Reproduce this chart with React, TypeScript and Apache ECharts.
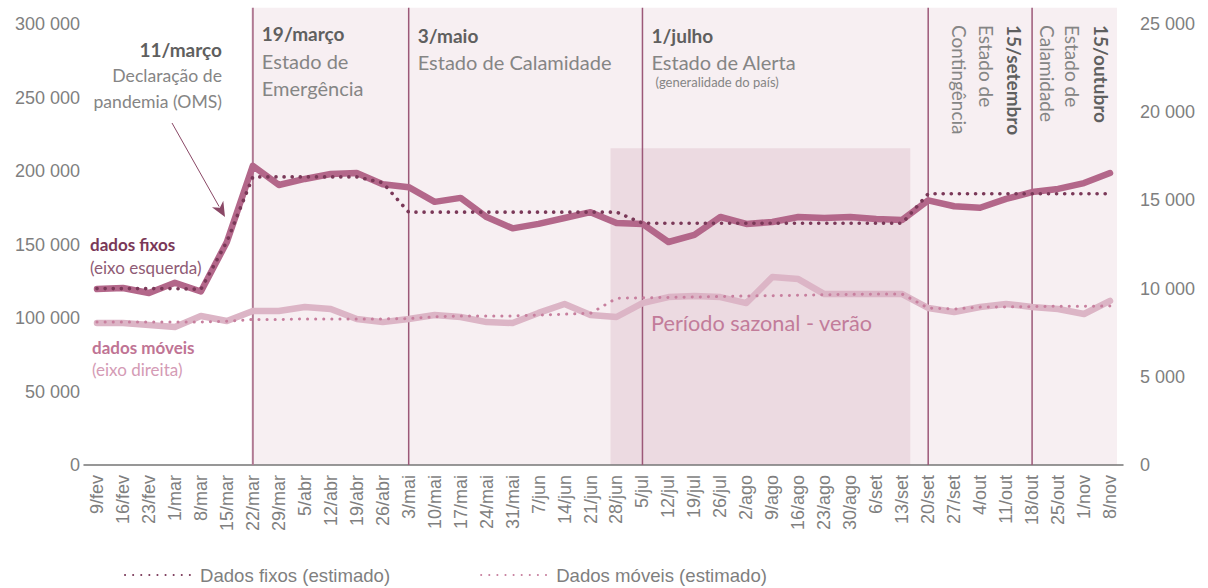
import React, { useEffect, useRef } from "react";
import * as echarts from "echarts";

const categories = [
  "9/fev", "16/fev", "23/fev", "1/mar", "8/mar", "15/mar", "22/mar", "29/mar", "5/abr", "12/abr",
  "19/abr", "26/abr", "3/mai", "10/mai", "17/mai", "24/mai", "31/mai", "7/jun", "14/jun", "21/jun",
  "28/jun", "5/jul", "12/jul", "19/jul", "26/jul", "2/ago", "9/ago", "16/ago", "23/ago", "30/ago",
  "6/set", "13/set", "20/set", "27/set", "4/out", "11/out", "18/out", "25/out", "1/nov", "8/nov",
];

// Dados fixos (eixo esquerda)
const fixedActual = [
  119700, 120400, 117000, 124000, 118000, 151700, 203500, 190500, 194600, 198000,
  198600, 191000, 189000, 179000, 181700, 168700, 161000, 164000, 168000, 172000,
  164600, 164000, 151700, 156500, 168700, 164000, 165300, 168700, 168000, 168700,
  167400, 166700, 180000, 176000, 175000, 181000, 185700, 187800, 191800, 198600,
];
const fixedEstimated = [
  120000, 120000, 120000, 120000, 119500, 152000, 196000, 196000, 196000, 196000,
  196000, 192000, 172000, 172000, 172000, 172000, 172000, 172000, 172000, 172000,
  172000, 164500, 164500, 164500, 164500, 164500, 164500, 164500, 164500, 164500,
  164500, 164500, 184500, 184500, 184500, 184500, 184500, 184500, 184500, 184500,
];

// Dados móveis (eixo direita)
const mobileActual = [
  8050, 8050, 7940, 7820, 8450, 8160, 8730, 8730, 8960, 8840,
  8280, 8100, 8280, 8500, 8390, 8100, 8050, 8620, 9130, 8500,
  8390, 9180, 9520, 9580, 9520, 9180, 10660, 10540, 9690, 9690,
  9690, 9690, 8900, 8670, 8960, 9130, 8960, 8840, 8560, 9300,
];
const mobileEstimated = [
  8100, 8100, 8100, 8100, 8100, 8150, 8250, 8250, 8280, 8280,
  8280, 8280, 8300, 8400, 8450, 8450, 8450, 8500, 8550, 8600,
  9450, 9480, 9500, 9520, 9550, 9580, 9600, 9620, 9650, 9670,
  9690, 9690, 8900, 8840, 8950, 8960, 8980, 9000, 9000, 9010,
];

const leftTicks = { min: 0, max: 300000, interval: 50000 };
const rightTicks = { min: 0, max: 25000, interval: 5000 };

const eventCategories = ["22/mar", "3/mai", "5/jul", "20/set", "18/out"];

const seriesNames = {
  fixed: "Dados fixos",
  fixedEst: "Dados fixos (estimado)",
  mobile: "Dados móveis",
  mobileEst: "Dados móveis (estimado)",
};

const C = {
  fixed: "#b3678a",
  fixedEst: "#7a3858",
  mobile: "#dcb5c6",
  mobileEst: "#c77f9e",
  event: "#9c5878",
  shadeLight: "#f7eff2",
  shadeSeason: "#ecdae1",
  axisText: "#7f7f7f",
  noteBold: "#5f5f5f",
  note: "#858585",
};

const fmt = (v: number) => String(v).replace(/\B(?=(\d{3})+(?!\d))/g, " ");

const ANNOT_FONT = "Lato";
const AXIS_FONT = "Liberation Sans";

export default function App() {
  const ref = useRef<HTMLDivElement>(null);

  useEffect(() => {
    if (!ref.current) return;
    const chart = echarts.init(ref.current, null, { renderer: "svg" });

    const dottedFixed = { color: C.fixedEst, width: 3.6, type: [0.1, 8] as any, cap: "round" as const };
    const dottedMobile = { color: C.mobileEst, width: 3, type: [0.1, 8] as any, cap: "round" as const };

    chart.setOption({
      animation: false,
      textStyle: { fontFamily: AXIS_FONT },
      grid: { left: 84, right: 85, top: 24, bottom: 123, containLabel: false },
      legend: {
        data: [seriesNames.fixedEst, seriesNames.mobileEst],
        left: 124,
        top: 565,
        padding: 0,
        itemWidth: 70,
        itemHeight: 12,
        itemGap: 90,
        itemStyle: { opacity: 0 },
        textStyle: { color: C.axisText, fontSize: 18.6, fontFamily: AXIS_FONT, lineHeight: 20 },
      },
      xAxis: [
        {
          type: "category",
          data: categories,
          boundaryGap: true,
          axisLine: { show: true, lineStyle: { color: "#767676", width: 1.5 } },
          axisTick: { show: false },
          axisLabel: {
            interval: 0,
            rotate: 90,
            margin: 10,
            color: C.axisText,
            fontSize: 18,
            fontFamily: AXIS_FONT,
          },
          splitLine: { show: false },
        },
      ],
      yAxis: [
        {
          type: "value",
          position: "left",
          ...leftTicks,
          axisLine: { show: false },
          axisTick: { show: false },
          splitLine: { show: false },
          axisLabel: { color: C.axisText, fontSize: 18, fontFamily: AXIS_FONT, margin: 4, formatter: fmt },
        },
        {
          type: "value",
          position: "right",
          ...rightTicks,
          axisLine: { show: false },
          axisTick: { show: false },
          splitLine: { show: false },
          axisLabel: { color: C.axisText, fontSize: 18, fontFamily: AXIS_FONT, margin: 17, formatter: fmt },
        },
      ],
      series: [
        {
          name: seriesNames.mobile,
          type: "line",
          yAxisIndex: 1,
          data: mobileActual,
          symbol: "none",
          lineStyle: { color: C.mobile, width: 6.5, join: "round", cap: "round" },
          itemStyle: { color: C.mobile },
          z: 3,
        },
        {
          name: seriesNames.mobileEst,
          type: "line",
          yAxisIndex: 1,
          data: mobileEstimated,
          symbol: "none",
          lineStyle: dottedMobile,
          itemStyle: { color: C.mobileEst },
          z: 4,
        },
        {
          name: seriesNames.fixed,
          type: "line",
          yAxisIndex: 0,
          data: fixedActual,
          symbol: "none",
          lineStyle: { color: C.fixed, width: 6.5, join: "round", cap: "round" },
          itemStyle: { color: C.fixed },
          z: 5,
        },
        {
          name: seriesNames.fixedEst,
          type: "line",
          yAxisIndex: 0,
          data: fixedEstimated,
          symbol: "none",
          lineStyle: dottedFixed,
          itemStyle: { color: C.fixedEst },
          z: 6,
        },
      ],
    });

    // pixel helpers from the library's own scales
    const x0 = chart.convertToPixel({ xAxisIndex: 0 }, categories[0]) as number;
    const x1 = chart.convertToPixel({ xAxisIndex: 0 }, categories[1]) as number;
    const band = x1 - x0;
    const xi = (i: number) => x0 + band * i;
    const xc = (c: string) => xi(categories.indexOf(c));
    const yL = (v: number) => chart.convertToPixel({ yAxisIndex: 0 }, v) as number;
    const yBase = yL(0);
    const yTop = yL(311000);

    const ev = eventCategories.map(xc);
    const shadeLeft = ev[0];
    const shadeRight = xi(39.27);
    const seasonLeft = xi(19.77);
    const seasonRight = xi(31.31);
    const seasonTop = yL(215500);

    const txt = (
      text: string,
      x: number,
      y: number,
      opts: { size?: number; bold?: boolean; color?: string; align?: string; rot?: boolean } = {}
    ) => ({
      type: "text",
      x,
      y,
      rotation: opts.rot ? -Math.PI / 2 : 0,
      z: 50,
      silent: true,
      style: {
        text,
        fontFamily: ANNOT_FONT,
        fontSize: opts.size ?? 20,
        fontWeight: opts.bold ? "bold" : "normal",
        fill: opts.color ?? C.note,
        align: opts.align ?? "left",
        verticalAlign: "middle",
      },
    });

    // arrow (11/março)
    const ax0 = 172, ay0 = 123, ax1 = 225, ay1 = 217;
    const dx = ax1 - ax0, dy = ay1 - ay0;
    const len = Math.hypot(dx, dy);
    const ux = dx / len, uy = dy / len;
    const hl = 15, hw = 6.5;
    const bx = ax1 - ux * hl, by = ay1 - uy * hl;
    const arrowHead = [
      [ax1, ay1],
      [bx - uy * hw, by + ux * hw],
      [ax1 - ux * hl * 0.7, ay1 - uy * hl * 0.7],
      [bx + uy * hw, by - ux * hw],
    ];

    const graphics: any[] = [
      {
        type: "rect",
        z: -1,
        silent: true,
        shape: { x: shadeLeft, y: yTop, width: shadeRight - shadeLeft, height: yBase - yTop },
        style: { fill: C.shadeLight },
      },
      {
        type: "rect",
        z: -1,
        silent: true,
        shape: { x: seasonLeft, y: seasonTop, width: seasonRight - seasonLeft, height: yBase - seasonTop },
        style: { fill: C.shadeSeason },
      },
      ...ev.map((x, k) => ({
        type: "line",
        z: 1,
        silent: true,
        shape: { x1: x, y1: yTop, x2: x, y2: yBase },
        style: { stroke: k === 0 ? "#b07993" : C.event, lineWidth: k === 0 ? 2 : 1.5 },
      })),
      {
        type: "line",
        z: 40,
        silent: true,
        shape: { x1: ax0, y1: ay0, x2: bx + ux * 3, y2: by + uy * 3 },
        style: { stroke: "#8a4866", lineWidth: 1 },
      },
      {
        type: "polygon",
        z: 40,
        silent: true,
        shape: { points: arrowHead },
        style: { fill: "#8a4866" },
      },
      // 11/março
      txt("11/março", 222, 49, { bold: true, color: C.noteBold, align: "right", size: 19 }),
      txt("Declaração de", 222, 75, { size: 17.6, align: "right" }),
      txt("pandemia (OMS)", 222, 101, { size: 17.6, align: "right" }),
      // 19/março
      txt("19/março", ev[0] + 9, 33, { bold: true, color: C.noteBold, size: 19 }),
      txt("Estado de", ev[0] + 9, 61),
      txt("Emergência", ev[0] + 9, 88),
      // 3/maio
      txt("3/maio", ev[1] + 9, 35, { bold: true, color: C.noteBold, size: 19 }),
      txt("Estado de Calamidade", ev[1] + 9, 62),
      // 1/julho
      txt("1/julho", ev[2] + 9, 35, { bold: true, color: C.noteBold, size: 19 }),
      txt("Estado de Alerta", ev[2] + 9, 62),
      txt("(generalidade do país)", ev[2] + 13, 82, { size: 13 }),
      // 15/setembro (vertical)
      txt("15/setembro", ev[3] + 86, 25, { bold: true, color: C.noteBold, size: 19, rot: true }),
      txt("Estado de", ev[3] + 58, 25, { rot: true, size: 19 }),
      txt("Contingência", ev[3] + 31, 25, { rot: true, size: 19 }),
      // 15/outubro (vertical)
      txt("15/outubro", ev[4] + 69, 25, { bold: true, color: C.noteBold, size: 19, rot: true }),
      txt("Estado de", ev[4] + 40, 25, { rot: true, size: 19 }),
      txt("Calamidade", ev[4] + 15, 25, { rot: true, size: 19 }),
      // series labels
      txt("dados fixos", 90, 244, { bold: true, color: "#7a3858", size: 17 }),
      txt("(eixo esquerda)", 90, 267, { color: "#8f5b75", size: 17 }),
      txt("dados móveis", 92, 347, { bold: true, color: "#c07494", size: 17 }),
      txt("(eixo direita)", 92, 369, { color: "#d49bb5", size: 17 }),
      txt("Período sazonal - verão", 651, 323, { color: "#c27c9a", size: 21.7 }),
    ];

    chart.setOption({ graphic: graphics });

    return () => chart.dispose();
  }, []);

  return (
    <div
      ref={ref}
      style={{ width: 1208, height: 588, position: "absolute", left: 0, top: 0, background: "#fff" }}
    />
  );
}
